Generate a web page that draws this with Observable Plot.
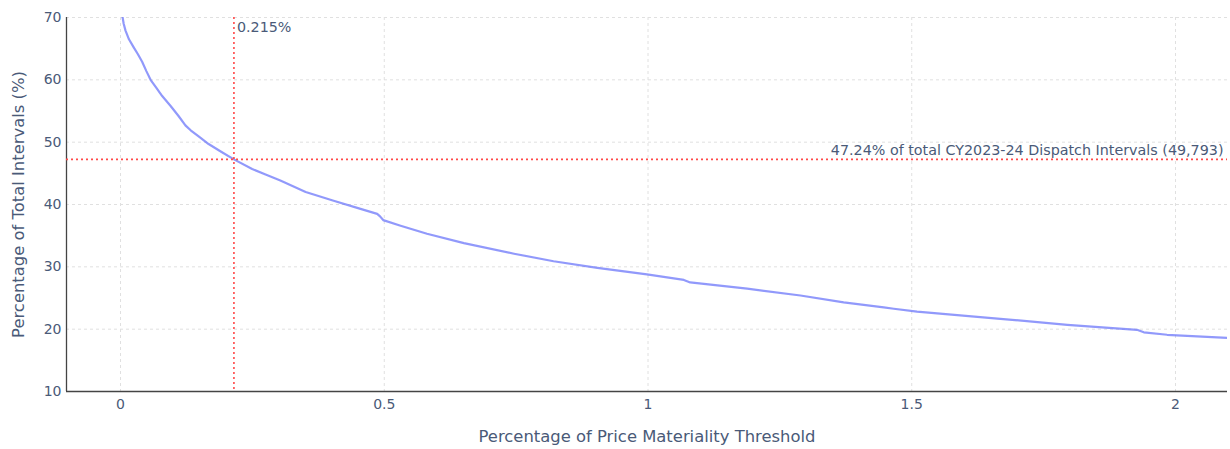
<!DOCTYPE html>
<html>
<head>
<meta charset="utf-8">
<script src="https://cdn.jsdelivr.net/npm/d3@7"></script>
<script src="https://cdn.jsdelivr.net/npm/@observablehq/plot@0.6"></script>
<style>
  html, body { margin: 0; padding: 0; background: #fff; }
  #chart svg { display: block; }
</style>
</head>
<body>
<div id="chart"></div>
<script>
// Percentage of Price Materiality Threshold (x) vs Percentage of Total Intervals (y)
const thresholdPct = [0.002, 0.006, 0.0095, 0.016, 0.025, 0.033, 0.041, 0.049, 0.057, 0.068, 0.079, 0.095, 0.11, 0.123, 0.133, 0.15, 0.167, 0.19, 0.215, 0.2496, 0.275, 0.303, 0.351, 0.404, 0.455, 0.4866, 0.492, 0.498, 0.531, 0.581, 0.651, 0.746, 0.821, 0.904, 0.998, 1.068, 1.08, 1.188, 1.289, 1.371, 1.447, 1.466, 1.51, 1.668, 1.795, 1.927, 1.94, 1.984, 2.098];
const intervalPct  = [71.0, 69.0, 67.9, 66.5, 65.2, 64.1, 62.9, 61.4, 60.0, 58.7, 57.4, 55.8, 54.2, 52.7, 51.9, 50.8, 49.7, 48.5, 47.24, 45.7, 44.8, 43.85, 42.0, 40.6, 39.3, 38.5, 38.1, 37.5, 36.6, 35.3, 33.8, 32.1, 30.9, 29.84, 28.8, 27.9, 27.5, 26.5, 25.4, 24.3, 23.5, 23.27, 22.8, 21.66, 20.7, 19.9, 19.5, 19.1, 18.6];

const markerX = [0.215];
const markerY = [47.24];
const markerXLabel = ["0.215%"];
const markerYLabel = ["47.24% of total CY2023-24 Dispatch Intervals (49,793)"];

const xTicks = [0, 0.5, 1, 1.5, 2];
const yTicks = [10, 20, 30, 40, 50, 60, 70];
const xDomain = [-0.1024, 2.0986];
const yDomain = [10, 70];

const data = thresholdPct.map((x, i) => ({x, y: intervalPct[i]}));
const txt = "#4a5a78";
const font = "Verdana, 'DejaVu Sans', sans-serif";
const fmt = d => String(d);

const chart = Plot.plot({
  width: 1230,
  height: 449,
  marginLeft: 66,
  marginRight: 3,
  marginTop: 17,
  marginBottom: 58,
  style: {fontFamily: font, fontSize: "14px", color: txt, background: "#fff"},
  x: {domain: xDomain, label: null},
  y: {domain: yDomain, label: null},
  marks: [
    Plot.gridX(xTicks, {stroke: "#e0e0e0", strokeOpacity: 1, strokeDasharray: "3,3"}),
    Plot.gridY(yTicks.filter(d => d > yDomain[0]), {stroke: "#e0e0e0", strokeOpacity: 1, strokeDasharray: "3,3"}),
    Plot.axisX(xTicks, {tickSize: 0, tickPadding: 8, tickFormat: fmt, fontSize: 14, fill: txt, label: null}),
    Plot.axisY(yTicks, {tickSize: 0, tickPadding: 5, tickFormat: fmt, fontSize: 14, fill: txt, label: null}),
    Plot.ruleX([xDomain[0]], {stroke: "#444", strokeWidth: 1.3}),
    Plot.ruleY([yDomain[0]], {stroke: "#444", strokeWidth: 1.3}),
    Plot.line(data, {x: "x", y: "y", stroke: "#636efa", strokeOpacity: 0.7, strokeWidth: 2.2, clip: true}),
    Plot.ruleX(markerX, {stroke: "#ff4848", strokeOpacity: 1, strokeWidth: 1.6, strokeDasharray: "2,3"}),
    Plot.ruleY(markerY, {stroke: "#ff4848", strokeOpacity: 1, strokeWidth: 1.6, strokeDasharray: "2,3"}),
    Plot.text(markerXLabel, {x: markerX, y: [yDomain[1]], text: d => d, textAnchor: "start", lineAnchor: "top", dx: 3, dy: 4, fontSize: 14.3, fill: txt}),
    Plot.text(markerYLabel, {x: [xDomain[1]], y: markerY, text: d => d, textAnchor: "end", lineAnchor: "bottom", dx: -4, dy: -4, fontSize: 14.3, fill: txt}),
    Plot.text(["Percentage of Price Materiality Threshold"], {frameAnchor: "bottom", dy: 50, text: d => d, fontSize: 16.4, fill: txt}),
    Plot.text(["Percentage of Total Intervals (%)"], {frameAnchor: "left", textAnchor: "middle", dx: -48, rotate: -90, text: d => d, fontSize: 16.4, fill: txt})
  ]
});
document.getElementById("chart").appendChild(chart);
</script>
</body>
</html>
